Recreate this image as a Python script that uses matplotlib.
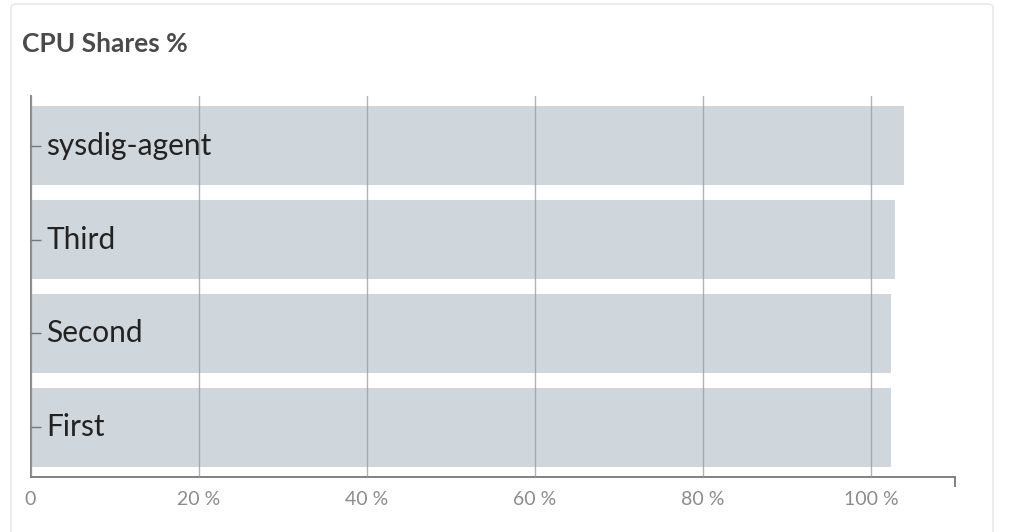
import matplotlib.pyplot as plt
from matplotlib.patches import FancyBboxPatch
from matplotlib.ticker import FuncFormatter

# data (bottom to top)
names = ["First", "Second", "Third", "sysdig-agent"]
shares = [102.4, 102.4, 102.9, 103.95]
x_ticks = [0, 20, 40, 60, 80, 100]

W, H = 1009, 532
fig = plt.figure(figsize=(W / 100, H / 100), dpi=100)
fig.patch.set_facecolor("white")

# card background
card = FancyBboxPatch((11 / W, -0.05), (993 - 11) / W, (H - 4) / H + 0.05,
                      boxstyle="round,pad=0,rounding_size=0.006",
                      transform=fig.transFigure, facecolor="white",
                      edgecolor="#e8e8e8", linewidth=1.2, zorder=-5)
fig.patches.append(card)

ax = fig.add_axes([30.5 / W, (H - 477) / H, (955 - 30.5) / W, (477 - 96) / H])
ax.set_zorder(2)
ax.set_facecolor("none")

ax.barh(range(len(names)), shares, height=0.84, color="#cfd7dd", zorder=1)

ax.set_xlim(0, 110)
ax.set_ylim(-0.527, len(names) - 1 + 0.527)

ax.set_xticks(x_ticks)
ax.xaxis.set_major_formatter(FuncFormatter(lambda v, p: "0" if v == 0 else "%d %%" % v))
ax.set_xticks([0, 110], minor=True)
ax.tick_params(axis="x", which="major", length=0, pad=10, labelsize=14, labelcolor="#8c8c8c")
ax.tick_params(axis="x", which="minor", length=7, width=1.3, color="#777777", direction="out")
ax.grid(axis="x", color="#999999", linewidth=1, alpha=0.75, zorder=2)
ax.set_axisbelow(False)

ax.set_yticks(range(len(names)))
ax.set_yticklabels([])
ax.tick_params(axis="y", direction="in", length=7, width=1, color="#777777")

for s in ["top", "right"]:
    ax.spines[s].set_visible(False)
for s in ["left", "bottom"]:
    ax.spines[s].set_color("#777777")
    ax.spines[s].set_linewidth(1.3)

for i, n in enumerate(names):
    ax.annotate(n, xy=(0, i), xycoords=("axes fraction", "data"),
                xytext=(16, 0), textcoords="offset pixels",
                ha="left", va="center", fontsize=21.5, color="#222222",
                family="Lato", zorder=3)

for lbl in ax.get_xticklabels():
    lbl.set_family("Lato")

fig.text(22 / W, 1 - 44 / H, "CPU Shares %", ha="left", va="center",
         fontsize=19, fontweight="bold", color="#4a4a4a", family="Lato")

fig.savefig("out.png", dpi=100)
